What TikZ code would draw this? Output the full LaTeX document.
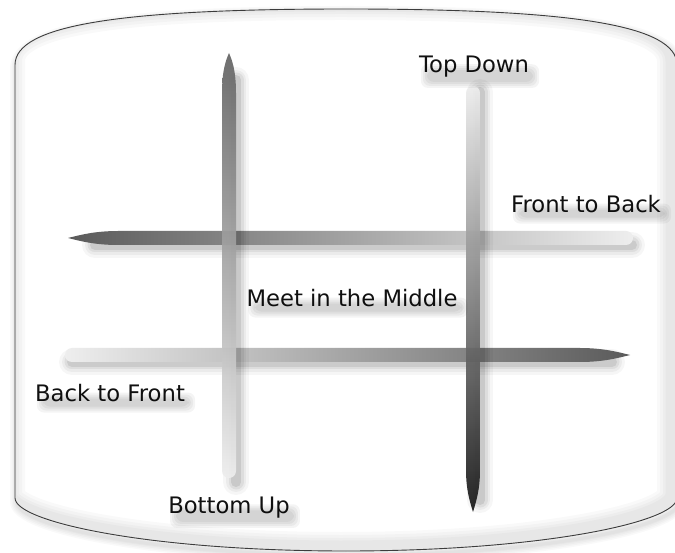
\documentclass[tikz,border=0pt]{standalone}
\usepackage{fontspec}
\setmainfont{DejaVu Sans}
\definecolor{framegray}{HTML}{3C3C3C}
\definecolor{barlight}{HTML}{EEEEEE}
\definecolor{bardark}{HTML}{5A5A5A}
\definecolor{tipblack}{HTML}{141414}
\definecolor{inkgray}{HTML}{111111}

% Outline of the rounded container, reused for shadow, fill and border.
\newcommand{\containerpath}{(15,65) .. controls (15,25) and (120,9) .. (346,9)
  .. controls (572,9) and (677,25) .. (677,65) -- (677,498)
  .. controls (677,522) and (542,551) .. (346,551)
  .. controls (150,551) and (15,522) .. (15,498) -- cycle}

\begin{document}
\begin{tikzpicture}[
  x=1pt,
  y=-1pt,
  line join=round,
  frame/.style={draw=framegray,line width=0.9pt},
  barshadow/.style={draw=black,line cap=round},
  barlabel/.style={font=\fontsize{22.7}{27}\selectfont,text=inkgray,inner sep=0pt,anchor=base},
  textshadow/.style={fill=black,opacity=0.045,rounded corners=7pt}
]
  % Match the artwork frame.
  \useasboundingbox (0,0) rectangle (675,553);

  % Container: soft drop shadow, white body, inner shade at the top left.
  \begin{scope}[shift={(2,4)}]
    \foreach \w in {14,11,8,5,3} {
      \draw[black,opacity=0.025,line width=\w pt] \containerpath;
    }
  \end{scope}
  \fill[white] \containerpath;
  \begin{scope}
    \clip \containerpath;
    \foreach \w in {30,24,18,13} {
      \draw[black,opacity=0.025,line width=\w pt,shift={(-5,-4)}] \containerpath;
    }
  \end{scope}
  \draw[frame] \containerpath;

  % Bar end points.
  \coordinate (fb-tip) at (68,238);
  \coordinate (fb-end) at (633,238);
  \coordinate (bf-end) at (65,355);
  \coordinate (bf-tip) at (630,355);
  \coordinate (bu-tip) at (229,53);
  \coordinate (bu-end) at (229,478);
  \coordinate (td-end) at (473,86);
  \coordinate (td-tip) at (473,512);

  % Shadows of the horizontal bars.
  \foreach \w/\o in {26/0.035,20/0.045,15/0.06,10/0.08} {
    \draw[barshadow,line width=\w pt,opacity=\o] (95,245) -- (632,245);
    \draw[barshadow,line width=\w pt,opacity=\o] (72,362) -- (612,362);
  }

  % Front to Back: pointed dark end on the left.
  \shade[left color=bardark,right color=barlight]
    (118,231) -- (626,231) arc[start angle=270,end angle=450,radius=7]
    -- (118,245) .. controls (95,245) and (80,241) .. (fb-tip)
    .. controls (80,235) and (95,231) .. (118,231) -- cycle;

  % Back to Front: pointed dark end on the right.
  \shade[left color=barlight,right color=bardark]
    (580,348) -- (72,348) arc[start angle=270,end angle=90,radius=7]
    -- (580,362) .. controls (603,362) and (618,358) .. (bf-tip)
    .. controls (618,352) and (603,348) .. (580,348) -- cycle;

  % Shadows of the vertical bars.
  \foreach \w/\o in {26/0.035,20/0.045,15/0.06,10/0.09} {
    \draw[barshadow,line width=\w pt,opacity=\o] (236,80) -- (236,482);
    \draw[barshadow,line width=\w pt,opacity=\o] (480,92) -- (480,500);
  }

  % Bottom Up: pointed dark end at the top.
  \shade[top color=bardark!95,bottom color=barlight,opacity=0.92]
    (222,93) .. controls (222,70) and (226,60) .. (bu-tip)
    .. controls (232,60) and (236,70) .. (236,93)
    -- (236,471) arc[start angle=0,end angle=180,radius=7] -- cycle;

  % Top Down: pointed black end at the bottom.
  \shade[top color=barlight,bottom color=tipblack,opacity=0.92]
    (466,470) -- (466,93) arc[start angle=180,end angle=360,radius=7]
    -- (480,470) .. controls (480,490) and (476,502) .. (td-tip)
    .. controls (470,502) and (466,490) .. (466,470) -- cycle;

  % Labels.
  \node[barlabel] (topdown) at (474,73) {Top Down};
  \node[barlabel] (fronttoback) at (586,213) {Front to Back};
  \node[barlabel] (middle) at (352,307) {Meet in the Middle};
  \node[barlabel] (backtofront) at (110,402) {Back to Front};
  \node[barlabel] (bottomup) at (229,513) {Bottom Up};

  % Soft glow under each label.
  \foreach \n in {topdown,fronttoback,middle,backtofront,bottomup} {
    \foreach \i in {0,2,4,6} {
      \fill[textshadow] ([shift={(2+\i,8+\i)}]\n.north west)
        rectangle ([shift={(10-\i,10-\i)}]\n.south east);
    }
  }
\end{tikzpicture}
\end{document}
